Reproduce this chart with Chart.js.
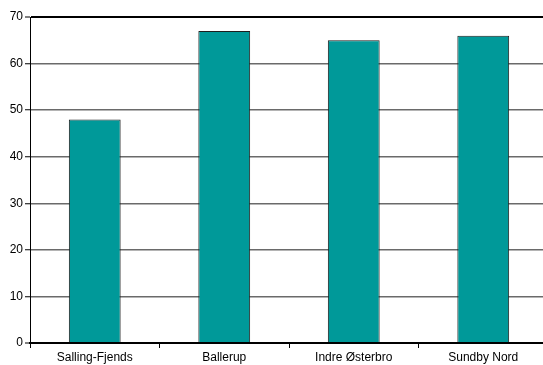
<!DOCTYPE html>
<html>
<head>
<meta charset="utf-8">
<script src="https://cdn.jsdelivr.net/npm/chart.js@4/dist/chart.umd.min.js"></script>
<style>
  html, body { margin: 0; padding: 0; background: #fff; overflow: hidden; }
  #wrap { position: relative; width: 550px; height: 365px; }
</style>
</head>
<body>
<div id="wrap"><canvas id="c" width="550" height="365"></canvas></div>
<script>
const categories = ["Salling-Fjends", "Ballerup", "Indre Østerbro", "Sundby Nord"];
const values = [48, 67, 65, 66];
const yTicks = [0, 10, 20, 30, 40, 50, 60, 70];

const font = { family: "'Liberation Sans', Arial, sans-serif", size: 12 };

new Chart(document.getElementById('c'), {
  type: 'bar',
  data: {
    labels: categories,
    datasets: [{
      data: values,
      backgroundColor: '#009999',
      borderColor: '#1e1e1e',
      borderWidth: 1,
      barPercentage: 0.4,
      categoryPercentage: 1.0
    }]
  },
  options: {
    responsive: false,
    animation: false,
    devicePixelRatio: 1,
    layout: { padding: { top: 17, right: 2, left: 0, bottom: 0 } },
    plugins: { legend: { display: false }, tooltip: { enabled: false } },
    scales: {
      x: {
        offset: true,
        grid: {
          offset: true,
          drawOnChartArea: false,
          drawTicks: true,
          tickLength: 5,
          tickColor: '#000',
          tickWidth: 1
        },
        border: { display: true, color: '#000', width: 2 },
        ticks: { color: '#000', font: font, padding: 2, maxRotation: 0 },
        afterFit: s => { s.height = 22; }
      },
      y: {
        min: 0,
        max: 70,
        afterBuildTicks: s => { s.ticks = yTicks.map(v => ({ value: v })); },
        grid: {
          color: ctx => (ctx.tick && (ctx.tick.value === 70 || ctx.tick.value === 0)) ? '#000' : '#6a6a6a',
          lineWidth: ctx => (ctx.tick && (ctx.tick.value === 70 || ctx.tick.value === 0)) ? 2 : 1.5,
          drawTicks: true,
          tickLength: 5,
          tickColor: '#000',
          tickWidth: 1
        },
        border: { display: true, color: '#000', width: 1 },
        ticks: { color: '#000', font: font, padding: 2 },
        afterFit: s => { s.width = 30; }
      }
    }
  }
});
</script>
</body>
</html>
